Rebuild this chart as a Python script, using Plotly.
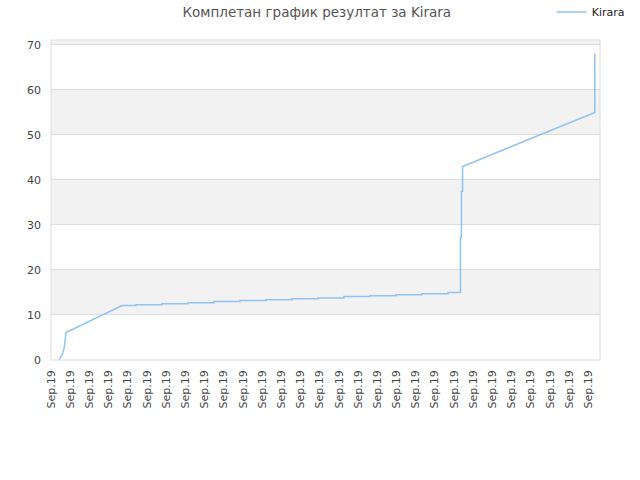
import plotly.graph_objects as go

# results of Kirara, x = position along the timeline (tick index), y = result
x_pos = [0.42, 0.57, 0.68, 0.73, 0.78, 3.70, 4.43, 4.43, 5.78, 5.78, 7.14, 7.14,
         8.49, 8.49, 9.84, 9.84, 11.20, 11.20, 12.55, 12.55, 13.90, 13.90,
         15.26, 15.26, 16.61, 16.61, 17.97, 17.97, 19.32, 19.32, 20.68, 20.68,
         21.33, 21.33, 21.38, 21.38, 21.44, 21.44, 28.33, 28.33]
y_vals = [0.0, 1.1, 2.5, 5.0, 6.1, 12.1, 12.1, 12.3, 12.3, 12.5, 12.5, 12.7,
          12.7, 13.0, 13.0, 13.2, 13.2, 13.4, 13.4, 13.6, 13.6, 13.8,
          13.8, 14.1, 14.1, 14.3, 14.3, 14.5, 14.5, 14.7, 14.7, 15.0,
          15.0, 27.3, 27.3, 37.5, 37.5, 43.0, 55.0, 68.0]

tick_pos = list(range(29))
tick_text = ['Sep.19'] * 29

shaded_bands = [(10, 20), (30, 40), (50, 60), (70, 80)]

fig = go.Figure()
fig.add_trace(go.Scatter(x=x_pos, y=y_vals, mode='lines', name='Kirara',
                         line=dict(color='#92c2f2', width=1.5)))

shapes = []
for lo, hi in shaded_bands:
    shapes.append(dict(type='rect', xref='paper', yref='y', x0=0, x1=1, y0=lo, y1=hi,
                       fillcolor='#f2f2f2', line=dict(width=0), layer='below'))
shapes.append(dict(type='rect', xref='paper', yref='paper', x0=0, x1=1, y0=0, y1=1,
                   line=dict(color='#dddddd', width=1), layer='above'))

fig.update_layout(
    title=dict(text='Комплетан график резултат за Kirara', x=0.495, xanchor='center',
               xref='container', yref='container', y=0.975, yanchor='middle',
               automargin=False,
               font=dict(family='DejaVu Sans', size=13.5, color='#555555')),
    width=640, height=480,
    margin=dict(l=51, r=40, t=40, b=120, autoexpand=False),
    paper_bgcolor='white', plot_bgcolor='white',
    font=dict(family='DejaVu Sans', size=11, color='#444444'),
    showlegend=True,
    legend=dict(xref='container', yref='container', x=0.862, y=0.975,
                xanchor='left', yanchor='middle', itemwidth=30,
                font=dict(size=11, color='#222222'), bgcolor='rgba(0,0,0,0)'),
    shapes=shapes,
    xaxis=dict(range=[0, 28.6], tickvals=tick_pos, ticktext=tick_text, tickangle=-90,
               showgrid=False, zeroline=False, showline=False, ticks='',
               ticklabelstandoff=7,
               automargin=False, tickfont=dict(size=11, color='#444444')),
    yaxis=dict(range=[0, 71.1], tickvals=[0, 10, 20, 30, 40, 50, 60, 70],
               showgrid=True, gridcolor='#dddddd', gridwidth=1, zeroline=False,
               showline=False, ticks='', automargin=False, ticklabelstandoff=9,
               tickfont=dict(size=11, color='#444444')),
)

# the page body has a default 8px margin, drop it so the chart sits at 0,0
fig.write_html("out.html", config={'displayModeBar': False},
               post_script="document.body.style.margin='0';")
